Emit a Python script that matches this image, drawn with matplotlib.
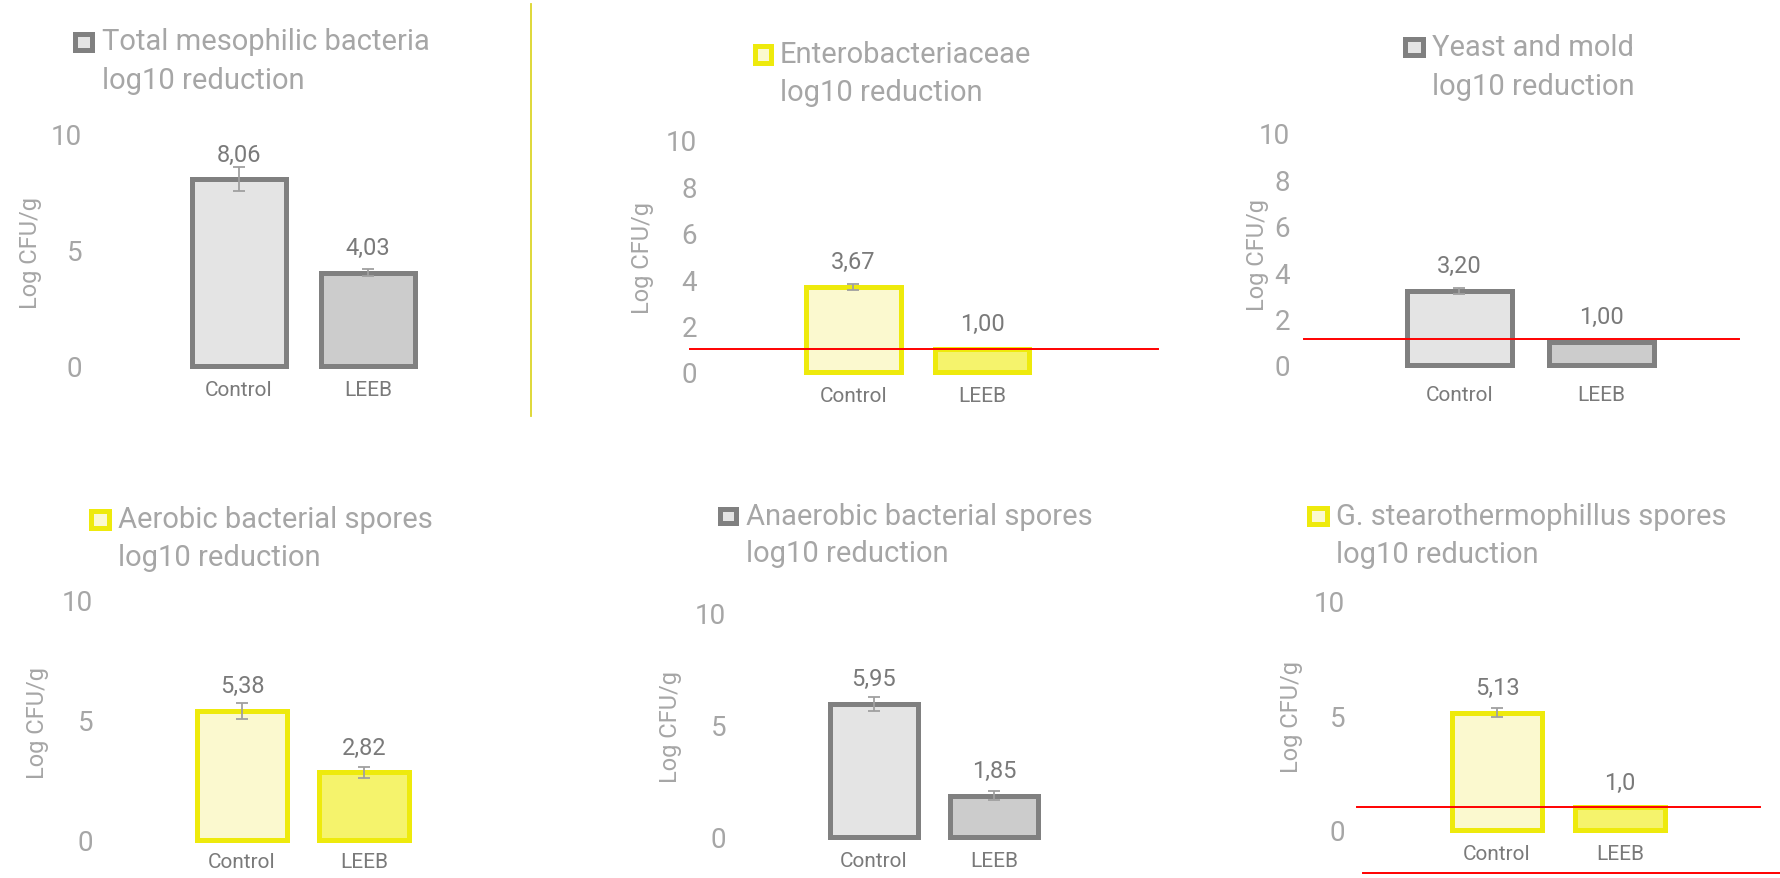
import numpy as np
import matplotlib
matplotlib.use("Agg")
import matplotlib.pyplot as plt
from matplotlib.lines import Line2D
from matplotlib.patches import Rectangle

plt.rcParams['font.family'] = ['Roboto', 'DejaVu Sans']

# ---- data ----
categories = ["Control", "LEEB"]
titles = [
    "Total mesophilic bacteria",
    "Enterobacteriaceae",
    "Yeast and mold",
    "Aerobic bacterial spores",
    "Anaerobic bacterial spores",
    "G. stearothermophillus spores",
]
subtitle = "log10 reduction"
values = [
    [8.06, 4.03],
    [3.67, 1.00],
    [3.20, 1.00],
    [5.38, 2.82],
    [5.95, 1.85],
    [5.13, 1.00],
]
errors = [
    [0.50, 0.15],
    [0.12, 0.0],
    [0.12, 0.0],
    [0.33, 0.22],
    [0.32, 0.22],
    [0.20, 0.0],
]
value_labels = [
    ["8,06", "4,03"],
    ["3,67", "1,00"],
    ["3,20", "1,00"],
    ["5,38", "2,82"],
    ["5,95", "1,85"],
    ["5,13", "1,0"],
]
yticks = [
    [0, 5, 10],
    [0, 2, 4, 6, 8, 10],
    [0, 2, 4, 6, 8, 10],
    [0, 5, 10],
    [0, 5, 10],
    [0, 5, 10],
]
detection_limit = [None, 1.0, 1.1, None, None, 1.0]
scheme = ["gray", "yellow", "gray", "yellow", "gray", "yellow"]

# ---- styles ----
schemes = {
    "gray":   dict(edge="#808080", ctrl="#e4e4e4", leeb="#cccccc"),
    "yellow": dict(edge="#eeea0c", ctrl="#fbf9cf", leeb="#f5f36c"),
}
LIGHT = "#a6a6a6"
MID = "#7a7a7a"

W, H = 1781, 879

# pixel layout of each panel
layout = [
    dict(y0=367, y10=135, c0=239, c1=368, tr=82, ylab=(31, 253), xpad=10.1,
         sq=(73, 32, 95, 53), tx=102, t1=42, t2=81, lod=None),
    dict(y0=373, y10=141, c0=853.5, c1=982, tr=697, ylab=(643, 258), xpad=10.1,
         sq=(752, 44, 773, 66), tx=780, t1=55, t2=93, lod=(690, 1158)),
    dict(y0=366, y10=134, c0=1459.5, c1=1601.5, tr=1290, ylab=(1258, 255), xpad=14.2,
         sq=(1403, 37, 1426, 58), tx=1432, t1=48, t2=87, lod=(1304, 1739)),
    dict(y0=841, y10=601, c0=242, c1=364, tr=93, ylab=(38, 723), xpad=8.5,
         sq=(89, 509, 112, 531), tx=118, t1=520, t2=558, lod=None),
    dict(y0=838, y10=614, c0=874, c1=994, tr=726, ylab=(671, 727), xpad=10.1,
         sq=(718, 507, 739, 526), tx=746, t1=517, t2=554, lod=None),
    dict(y0=831, y10=602, c0=1497, c1=1620, tr=1345, ylab=(1292, 717), xpad=10.1,
         sq=(1307, 506, 1330, 527), tx=1336, t1=517, t2=555, lod=(1357, 1760)),
]

fig = plt.figure(figsize=(W / 100, H / 100), dpi=100)

for i, lay in enumerate(layout):
    col = schemes[scheme[i]]
    s = lay["c1"] - lay["c0"]
    L = lay["tr"] + 10
    R = lay["c1"] + 160
    ax = fig.add_axes([L / W, 1 - lay["y0"] / H, (R - L) / W,
                       (lay["y0"] - lay["y10"]) / H])
    ax.set_xlim((L - lay["c0"]) / s, (R - lay["c0"]) / s)
    ax.set_ylim(0, 10)

    x = np.arange(len(categories))
    v = np.array(values[i])
    e = np.array(errors[i])
    ax.bar(x, v, width=0.735, color=[col["ctrl"], col["leeb"]],
           edgecolor=col["edge"], linewidth=3.6, zorder=2, clip_on=False)
    m = e > 0
    ax.errorbar(x[m], v[m], yerr=e[m], fmt="none", ecolor="#a0a0a0",
                elinewidth=1.3, capsize=4.3, capthick=1.3, zorder=3)
    for xi, vi, lab in zip(x, v, value_labels[i]):
        ax.annotate(lab, (xi, vi), xytext=(0, 18), textcoords="offset points",
                    ha="center", va="center", fontsize=17, color=MID)

    if detection_limit[i] is not None:
        a, b = lay["lod"]
        ax.axhline(detection_limit[i], xmin=(a - L) / (R - L),
                   xmax=(b - L) / (R - L), color="#ff0000", lw=1.4,
                   zorder=4, clip_on=False)

    ax.set_xticks(x, categories)
    ax.set_yticks(yticks[i])
    ax.tick_params(axis="x", length=0, pad=lay["xpad"], labelsize=15,
                   labelcolor=MID)
    ax.tick_params(axis="y", length=0, pad=7, labelsize=20, labelcolor=LIGHT)
    for sp in ax.spines.values():
        sp.set_visible(False)
    ax.patch.set_alpha(0)

    # y label
    fig.text(lay["ylab"][0] / W, 1 - lay["ylab"][1] / H, "Log CFU/g",
             rotation=90, ha="center", va="center", fontsize=17, color=LIGHT)

    # title with legend square
    x0, y0, x1, y1 = lay["sq"]
    fig.add_artist(Rectangle(((x0 + 2.5) / W, 1 - (y1 - 2.5) / H),
                             (x1 - x0 - 5) / W, (y1 - y0 - 5) / H,
                             transform=fig.transFigure, facecolor=col["ctrl"],
                             edgecolor=col["edge"], linewidth=3.6))
    fig.text(lay["tx"] / W, 1 - lay["t1"] / H, titles[i], ha="left",
             va="center", fontsize=21, color=LIGHT)
    fig.text(lay["tx"] / W, 1 - lay["t2"] / H, subtitle, ha="left",
             va="center", fontsize=21, color=LIGHT)

# separator and stray line at the bottom
fig.add_artist(Line2D([531 / W, 531 / W], [1 - 5 / H, 1 - 417 / H],
                      transform=fig.transFigure, color="#dcd62a", lw=1.3))
fig.add_artist(Line2D([1363 / W, 1.0], [1 - 874 / H, 1 - 874 / H],
                      transform=fig.transFigure, color="#ff0000", lw=1.4))

fig.savefig("out.png", dpi=100, facecolor="white")
